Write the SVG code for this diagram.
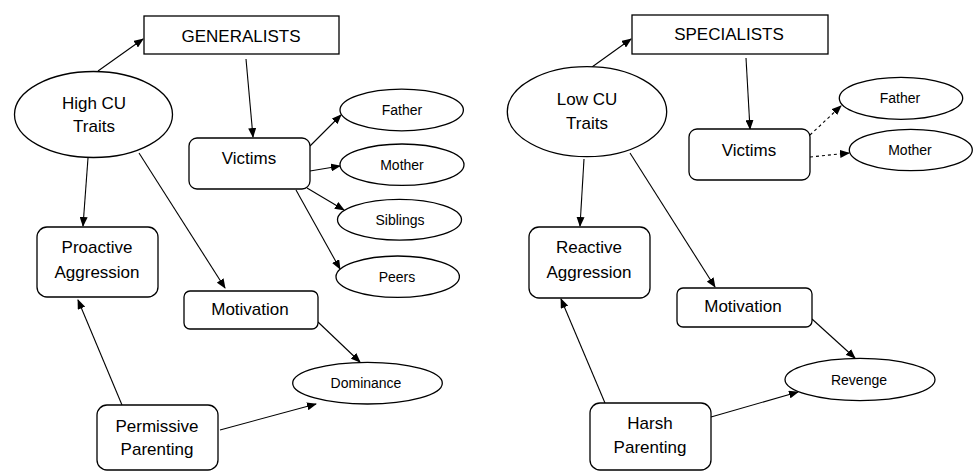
<svg xmlns="http://www.w3.org/2000/svg" width="973" height="472" viewBox="0 0 973 472">
<style>
.shape{fill:#fff;stroke:#000;stroke-width:1.3}
.lbl{font-family:"Liberation Sans",Arial,sans-serif;font-size:17px;fill:#000;text-anchor:middle;dominant-baseline:central}
.sm{font-size:14px}
.edge{stroke:#000;stroke-width:1.1;fill:none;marker-end:url(#ah)}
.dash{stroke-dasharray:3,3}
</style>
<defs>
<marker id="ah" markerUnits="userSpaceOnUse" markerWidth="10" markerHeight="8" refX="9" refY="4" orient="auto">
<path d="M0,0 L10,4 L0,8 z" fill="#000"/>
</marker>
</defs>
<rect width="973" height="472" fill="#fff"/>
<g id="connectors">
<line class="edge" x1="98" y1="71" x2="143" y2="39"/>
<line class="edge" x1="246" y1="59" x2="253" y2="137"/>
<line class="edge" x1="310" y1="146" x2="341" y2="115"/>
<line class="edge" x1="310" y1="171" x2="340" y2="166"/>
<line class="edge" x1="307" y1="188" x2="344" y2="210"/>
<line class="edge" x1="296" y1="190" x2="340" y2="269"/>
<line class="edge" x1="88" y1="158" x2="83" y2="226"/>
<line class="edge" x1="139" y1="153" x2="225" y2="288"/>
<line class="edge" x1="318" y1="322" x2="360" y2="362"/>
<line class="edge" x1="122" y1="405" x2="78" y2="300"/>
<line class="edge" x1="220" y1="430" x2="316" y2="404"/>
<line class="edge" x1="592" y1="67" x2="631" y2="39"/>
<line class="edge" x1="746" y1="58" x2="750" y2="129"/>
<line class="edge dash" x1="810" y1="135" x2="841" y2="106"/>
<line class="edge dash" x1="810" y1="157" x2="849" y2="153"/>
<line class="edge" x1="584" y1="159" x2="580" y2="226"/>
<line class="edge" x1="630" y1="153" x2="715" y2="287"/>
<line class="edge" x1="812" y1="319" x2="855" y2="358"/>
<line class="edge" x1="605" y1="403" x2="561" y2="299"/>
<line class="edge" x1="711" y1="417" x2="798" y2="392"/>
</g>
<g id="generalists"><rect class="shape" x="144" y="16" width="195" height="38"/><text class="lbl" x="241" y="36">GENERALISTS</text></g>
<g id="highcu"><ellipse class="shape" cx="93.5" cy="114.5" rx="79" ry="43"/><text class="lbl" x="94" y="103">High CU</text><text class="lbl" x="94" y="126">Traits</text></g>
<g id="victims-l"><rect class="shape" x="189" y="138" width="121" height="51" rx="8"/><text class="lbl" x="249" y="158">Victims</text></g>
<g id="father-l"><ellipse class="shape" cx="401.7" cy="110" rx="61.7" ry="20.8"/><text class="lbl sm" x="402" y="110">Father</text></g>
<g id="mother-l"><ellipse class="shape" cx="402" cy="164.7" rx="62" ry="20.7"/><text class="lbl sm" x="402" y="165">Mother</text></g>
<g id="siblings-l"><ellipse class="shape" cx="399.5" cy="219.7" rx="62" ry="20.4"/><text class="lbl sm" x="400" y="220">Siblings</text></g>
<g id="peers-l"><ellipse class="shape" cx="397.7" cy="276.7" rx="61.7" ry="20.7"/><text class="lbl sm" x="397" y="277">Peers</text></g>
<g id="proactive"><rect class="shape" x="37" y="227" width="121" height="70" rx="10"/><text class="lbl" x="97" y="247">Proactive</text><text class="lbl" x="97" y="272">Aggression</text></g>
<g id="motivation-l"><rect class="shape" x="184" y="291" width="134" height="38" rx="6"/><text class="lbl" x="250" y="309">Motivation</text></g>
<g id="dominance"><ellipse class="shape" cx="367.5" cy="383.2" rx="74.8" ry="20.8"/><text class="lbl sm" x="366" y="383">Dominance</text></g>
<g id="permissive"><rect class="shape" x="97" y="405" width="121" height="65" rx="10"/><text class="lbl" x="157" y="426">Permissive</text><text class="lbl" x="157" y="449">Parenting</text></g>
<g id="specialists"><rect class="shape" x="632" y="15" width="196" height="39"/><text class="lbl" x="729" y="34">SPECIALISTS</text></g>
<g id="lowcu"><ellipse class="shape" cx="587" cy="111.7" rx="79.7" ry="45"/><text class="lbl" x="587" y="99">Low CU</text><text class="lbl" x="587" y="123">Traits</text></g>
<g id="victims-r"><rect class="shape" x="689" y="129" width="121" height="51" rx="8"/><text class="lbl" x="749" y="150">Victims</text></g>
<g id="father-r"><ellipse class="shape" cx="901" cy="98.3" rx="61.7" ry="21"/><text class="lbl sm" x="900" y="98">Father</text></g>
<g id="mother-r"><ellipse class="shape" cx="910.8" cy="150" rx="61.5" ry="20.7"/><text class="lbl sm" x="910" y="150">Mother</text></g>
<g id="reactive"><rect class="shape" x="529" y="227" width="121" height="71" rx="10"/><text class="lbl" x="589" y="247">Reactive</text><text class="lbl" x="589" y="272">Aggression</text></g>
<g id="motivation-r"><rect class="shape" x="677" y="288" width="135" height="39" rx="6"/><text class="lbl" x="743" y="306">Motivation</text></g>
<g id="revenge"><ellipse class="shape" cx="860" cy="379.5" rx="75" ry="21.2"/><text class="lbl sm" x="859" y="380">Revenge</text></g>
<g id="harsh"><rect class="shape" x="590" y="403" width="121" height="67" rx="10"/><text class="lbl" x="650" y="423">Harsh</text><text class="lbl" x="650" y="447">Parenting</text></g>
</svg>
